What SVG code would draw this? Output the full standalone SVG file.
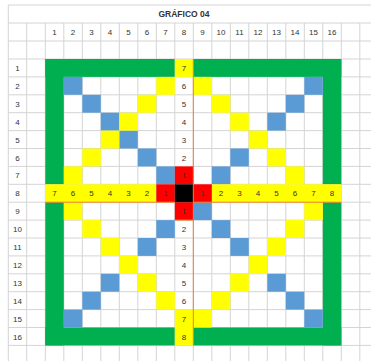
<svg xmlns="http://www.w3.org/2000/svg" width="371" height="361" viewBox="0 0 371 361">
<style>
.gl{stroke:#d4d4d4;stroke-width:1;fill:none}
.g{fill:#00b050}
.y{fill:#ffff00}
.b{fill:#5b9bd5}
.r{fill:#ff0000}
.k{fill:#000000}
.t{font-family:"Liberation Sans",Arial,sans-serif;font-size:8px;fill:#333;text-anchor:middle}
.ti{font-family:"Liberation Sans",Arial,sans-serif;font-size:8.5px;font-weight:bold;fill:#333;text-anchor:middle}
.o{stroke:#ed7d31;stroke-width:1;fill:none}
</style>
<rect width="371" height="361" fill="#fff"/>
<g id="gridlines">
<path class="gl" d="M8.3 5V361M26.7 23V361M45.3 23V361M63.8 23V361M82.3 23V361M100.8 23V361M119.3 23V361M137.8 23V361M156.3 23V361M174.8 23V361M193.3 23V361M211.8 23V361M230.3 23V361M248.8 23V361M267.3 23V361M285.8 23V361M304.3 23V361M322.8 23V361M341.3 23V361M359.8 23V361"/>
<path class="gl" d="M8.3 5H371M8.3 23H371M8.3 41H371M8.3 59H371M8.3 76.9H371M8.3 94.8H371M8.3 112.7H371M8.3 130.6H371M8.3 148.5H371M8.3 166.4H371M8.3 184.3H371M8.3 202.2H371M8.3 220.1H371M8.3 238H371M8.3 255.9H371M8.3 273.8H371M8.3 291.7H371M8.3 309.6H371M8.3 327.5H371M8.3 345.4H371"/>
</g>
<g id="title"><text class="ti" x="184" y="17">GRÁFICO 04</text></g>
<g id="col-headers" class="t">
<text x="54.5" y="35">1</text><text x="73" y="35">2</text><text x="91.5" y="35">3</text><text x="110" y="35">4</text><text x="128.5" y="35">5</text><text x="147" y="35">6</text><text x="165.5" y="35">7</text><text x="184" y="35">8</text><text x="202.5" y="35">9</text><text x="221" y="35">10</text><text x="239.5" y="35">11</text><text x="258" y="35">12</text><text x="276.5" y="35">13</text><text x="295" y="35">14</text><text x="313.5" y="35">15</text><text x="332" y="35">16</text>
</g>
<g id="row-headers" class="t">
<text x="17.5" y="71">1</text><text x="17.5" y="88.9">2</text><text x="17.5" y="106.8">3</text><text x="17.5" y="124.7">4</text><text x="17.5" y="142.6">5</text><text x="17.5" y="160.5">6</text><text x="17.5" y="178.4">7</text><text x="17.5" y="196.3">8</text><text x="17.5" y="214.2">9</text><text x="17.5" y="232.1">10</text><text x="17.5" y="250">11</text><text x="17.5" y="267.9">12</text><text x="17.5" y="285.8">13</text><text x="17.5" y="303.7">14</text><text x="17.5" y="321.6">15</text><text x="17.5" y="339.5">16</text>
</g>
<g id="board" transform="translate(45.3,59)">
<g id="frame">
<rect class="g" x="0" y="0" width="129.5" height="17.9"/>
<rect class="g" x="148" y="0" width="148" height="17.9"/>
<rect class="g" x="0" y="268.5" width="129.5" height="17.9"/>
<rect class="g" x="148" y="268.5" width="148" height="17.9"/>
<rect class="g" x="0" y="0" width="18.5" height="125.3"/>
<rect class="g" x="0" y="143.2" width="18.5" height="143.2"/>
<rect class="g" x="277.5" y="0" width="18.5" height="125.3"/>
<rect class="g" x="277.5" y="143.2" width="18.5" height="143.2"/>
</g>
<g id="blue-cells">
<rect class="b" x="18.5" y="17.9" width="18.5" height="17.9"/>
<rect class="b" x="37" y="35.8" width="18.5" height="17.9"/>
<rect class="b" x="55.5" y="53.7" width="18.5" height="17.9"/>
<rect class="b" x="74" y="71.6" width="18.5" height="17.9"/>
<rect class="b" x="92.5" y="89.5" width="18.5" height="17.9"/>
<rect class="b" x="111" y="107.4" width="18.5" height="17.9"/>
<rect class="b" x="259" y="17.9" width="18.5" height="17.9"/>
<rect class="b" x="240.5" y="35.8" width="18.5" height="17.9"/>
<rect class="b" x="222" y="53.7" width="18.5" height="17.9"/>
<rect class="b" x="185" y="89.5" width="18.5" height="17.9"/>
<rect class="b" x="166.5" y="107.4" width="18.5" height="17.9"/>
<rect class="b" x="148" y="143.2" width="18.5" height="17.9"/>
<rect class="b" x="166.5" y="161.1" width="18.5" height="17.9"/>
<rect class="b" x="185" y="179" width="18.5" height="17.9"/>
<rect class="b" x="222" y="214.8" width="18.5" height="17.9"/>
<rect class="b" x="240.5" y="232.7" width="18.5" height="17.9"/>
<rect class="b" x="259" y="250.6" width="18.5" height="17.9"/>
<rect class="b" x="111" y="161.1" width="18.5" height="17.9"/>
<rect class="b" x="92.5" y="179" width="18.5" height="17.9"/>
<rect class="b" x="55.5" y="214.8" width="18.5" height="17.9"/>
<rect class="b" x="37" y="232.7" width="18.5" height="17.9"/>
<rect class="b" x="18.5" y="250.6" width="18.5" height="17.9"/>
</g>
<g id="yellow-cells">
<rect class="y" x="111" y="17.9" width="18.5" height="17.9"/>
<rect class="y" x="92.5" y="35.8" width="18.5" height="17.9"/>
<rect class="y" x="74" y="53.7" width="18.5" height="17.9"/>
<rect class="y" x="55.5" y="71.6" width="18.5" height="17.9"/>
<rect class="y" x="37" y="89.5" width="18.5" height="17.9"/>
<rect class="y" x="18.5" y="107.4" width="18.5" height="17.9"/>
<rect class="y" x="148" y="17.9" width="18.5" height="17.9"/>
<rect class="y" x="166.5" y="35.8" width="18.5" height="17.9"/>
<rect class="y" x="185" y="53.7" width="18.5" height="17.9"/>
<rect class="y" x="203.5" y="71.6" width="18.5" height="17.9"/>
<rect class="y" x="222" y="89.5" width="18.5" height="17.9"/>
<rect class="y" x="240.5" y="107.4" width="18.5" height="17.9"/>
<rect class="y" x="259" y="143.2" width="18.5" height="17.9"/>
<rect class="y" x="240.5" y="161.1" width="18.5" height="17.9"/>
<rect class="y" x="222" y="179" width="18.5" height="17.9"/>
<rect class="y" x="203.5" y="196.9" width="18.5" height="17.9"/>
<rect class="y" x="185" y="214.8" width="18.5" height="17.9"/>
<rect class="y" x="166.5" y="232.7" width="18.5" height="17.9"/>
<rect class="y" x="148" y="250.6" width="18.5" height="17.9"/>
<rect class="y" x="18.5" y="143.2" width="18.5" height="17.9"/>
<rect class="y" x="37" y="161.1" width="18.5" height="17.9"/>
<rect class="y" x="55.5" y="179" width="18.5" height="17.9"/>
<rect class="y" x="74" y="196.9" width="18.5" height="17.9"/>
<rect class="y" x="92.5" y="214.8" width="18.5" height="17.9"/>
<rect class="y" x="111" y="232.7" width="18.5" height="17.9"/>
</g>
<g id="axes">
<rect class="y" x="129.5" y="0" width="18.5" height="17.9"/>
<rect class="y" x="129.5" y="250.6" width="18.5" height="35.8"/>
<rect class="y" x="0" y="125.3" width="111" height="17.9"/>
<rect class="y" x="166.5" y="125.3" width="129.5" height="17.9"/>
<rect class="r" x="111" y="125.3" width="18.5" height="17.9"/>
<rect class="r" x="148" y="125.3" width="18.5" height="17.9"/>
<rect class="r" x="129.5" y="107.4" width="18.5" height="17.9"/>
<rect class="r" x="129.5" y="143.2" width="18.5" height="17.9"/>
<rect class="k" x="129.5" y="125.3" width="18.5" height="17.9"/>
<path class="o" d="M148 0V286.4M0 143.2H129.5M148 143.2H296M129.5 161.1H148"/>
</g>
<g id="axis-labels" class="t">
<text x="138.75" y="12">7</text>
<text x="138.75" y="29.9">6</text>
<text x="138.75" y="47.8">5</text>
<text x="138.75" y="65.7">4</text>
<text x="138.75" y="83.6">3</text>
<text x="138.75" y="101.5">2</text>
<text x="138.75" y="119.4">1</text>
<text x="138.75" y="155.2">1</text>
<text x="138.75" y="173.1">2</text>
<text x="138.75" y="191">3</text>
<text x="138.75" y="208.9">4</text>
<text x="138.75" y="226.8">5</text>
<text x="138.75" y="244.7">6</text>
<text x="138.75" y="262.6">7</text>
<text x="138.75" y="280.5">8</text>
<text x="9.25" y="137.3">7</text>
<text x="27.75" y="137.3">6</text>
<text x="46.25" y="137.3">5</text>
<text x="64.75" y="137.3">4</text>
<text x="83.25" y="137.3">3</text>
<text x="101.75" y="137.3">2</text>
<text x="120.25" y="137.3">1</text>
<text x="157.25" y="137.3">1</text>
<text x="175.75" y="137.3">2</text>
<text x="194.25" y="137.3">3</text>
<text x="212.75" y="137.3">4</text>
<text x="231.25" y="137.3">5</text>
<text x="249.75" y="137.3">6</text>
<text x="268.25" y="137.3">7</text>
<text x="286.75" y="137.3">8</text>
</g>
</g>
</svg>
